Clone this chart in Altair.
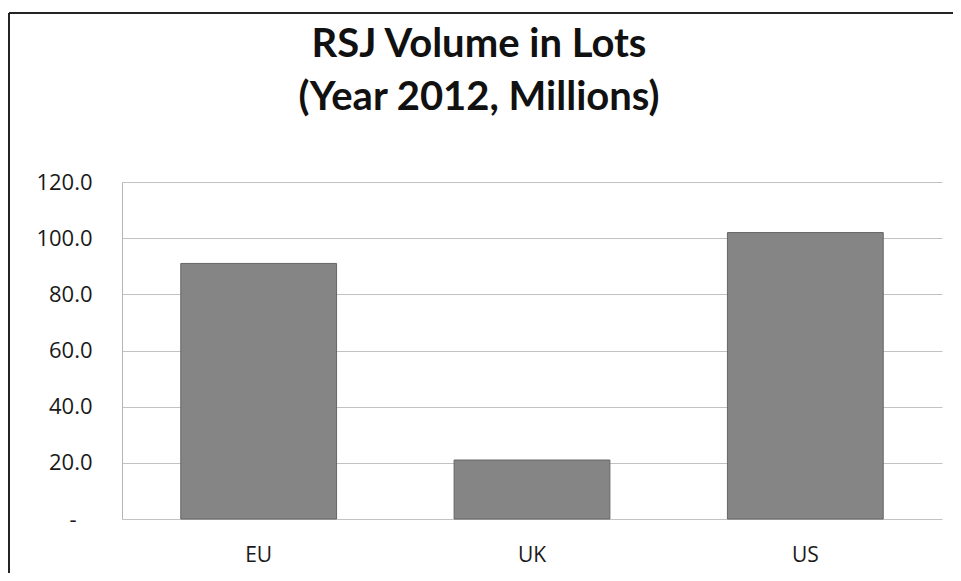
import altair as alt
import pandas as pd

regions = ["EU", "UK", "US"]
volumes = [91.0, 21.0, 102.0]
y_ticks = [0, 20, 40, 60, 80, 100, 120]
title_lines = ["RSJ Volume in Lots", "(Year 2012, Millions)"]

df = pd.DataFrame({"region": regions, "volume": volumes})

bars = alt.Chart(df).mark_bar(color="#858585", stroke="#666666", strokeWidth=1).encode(
    x=alt.X("region:N", sort=regions,
            scale=alt.Scale(paddingInner=0.43, paddingOuter=0.215),
            axis=alt.Axis(title=None, labelAngle=0, ticks=False, domain=False,
                          labelFont="Open Sans", labelFontSize=21, labelColor="#1a1a1a",
                          labelPadding=25)),
    y=alt.Y("volume:Q", scale=alt.Scale(domain=[0, 120]),
            axis=alt.Axis(title=None, values=y_ticks, ticks=False,
                          domain=True, domainColor="#b5b5b5", domainWidth=1,
                          grid=True, gridColor="#c2c2c2", gridWidth=1,
                          labelExpr="datum.value == 0 ? '-' : format(datum.value, '.1f')",
                          labelFont="Open Sans", labelFontSize=22, labelColor="#1a1a1a",
                          labelPadding={"condition": {"test": "datum.value == 0", "value": 46}, "value": 30})),
)

frame_left = alt.Chart(df).mark_rule(color="#222222", strokeWidth=1.5).encode(
    x=alt.value(-113), y=alt.value(-169), y2=alt.value(400)
)
frame_top = alt.Chart(df).mark_rule(color="#222222", strokeWidth=1.5).encode(
    x=alt.value(-113), x2=alt.value(831), y=alt.value(-169)
)

chart = (frame_left + frame_top + bars).properties(
    width=820, height=337,
    background="white",
    autosize=alt.AutoSizeParams(type="none"),
    padding={"left": 114, "top": 174, "right": 11, "bottom": 54},
    title=alt.TitleParams(
        text=title_lines,
        font="Lato", fontSize=40, fontWeight="bold", color="#111111",
        lineHeight=53, offset=-106, dx=-53, anchor="middle",
    ),
).configure_view(stroke=None)

chart.save("out.html", embed_options={"renderer": "svg", "actions": False})
